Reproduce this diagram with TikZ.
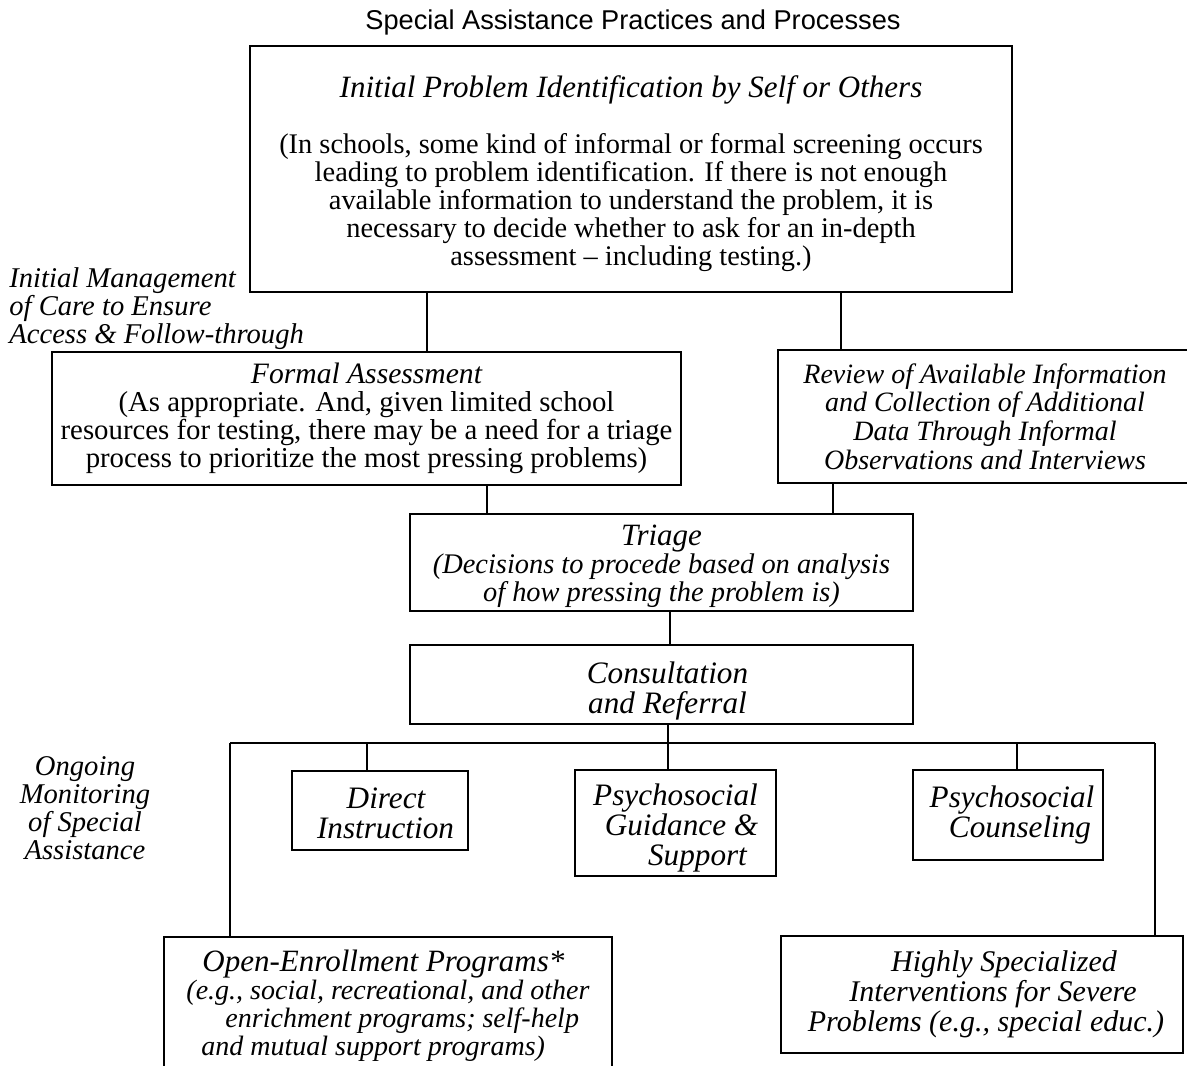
\documentclass[tikz,border=0pt]{standalone}
\usepackage{fontspec}
\setmainfont{Liberation Serif}
\newfontfamily\titlefont{Liberation Sans}
\newcommand{\hd}{\fontsize{15.5}{15}\selectfont}
\begin{document}
\begin{tikzpicture}[x=0.5pt,y=-0.5pt,
  txt/.style={font=\fontsize{14.2}{14}\selectfont},
  box/.style={draw, line width=1pt, align=flush center, inner sep=0pt, txt},
  sz/.style 2 args={minimum width=#1*0.5pt, minimum height=#2*0.5pt, text width=#1*0.5pt-2pt},
  conn/.style={line width=0.8pt},
  lbl/.style={font=\fontsize{14.3}{14}\selectfont\itshape, inner sep=0pt}]
\useasboundingbox (0,0) rectangle (1187,1065);

\node[font=\titlefont\fontsize{13.6}{14}\selectfont, inner sep=0pt] (title) at (633,22) {Special Assistance Practices and Processes};

\node[box, sz={762}{246}] (top) at (631,169)
  {\rule{0pt}{16pt}{\hd\itshape Initial Problem Identification by Self or Others}\\[14pt]
   (In schools, some kind of informal or formal screening occurs\\
   leading to problem identification. If there is not enough\\
   available information to understand the problem, it is\\
   necessary to decide whether to ask for an in-depth\\
   assessment – including testing.)};

\node[lbl, align=flush left, anchor=west] (initmgmt) at (9,309)
  {Initial Management\\ of Care to Ensure\\ Access \& Follow-through};

\node[box, sz={629}{133}, font=\fontsize{14.4}{14}\selectfont] (formal) at (366.5,418)
  {{\fontsize{14.8}{14}\selectfont\itshape Formal Assessment}\\
   (As appropriate. And, given limited school\\
   resources for testing, there may be a need for a triage\\
   process to prioritize the most pressing problems)};

\node[box, sz={414}{133}, font=\fontsize{14}{14.3}\selectfont\itshape] (review) at (985,416.5)
  {Review of Available Information\\ and Collection of Additional\\ Data Through Informal\\ Observations and Interviews};

\node[box, sz={503}{97}, font=\fontsize{14.2}{14}\selectfont\itshape] (triage) at (661.5,562)
  {\rule{0pt}{15pt}{\hd Triage}\\ (Decisions to procede based on analysis\\ of how pressing the problem is)};

\node[box, sz={503}{79}, font=\fontsize{15.6}{15}\selectfont\itshape] (consult) at (661.5,684)
  {\rule{0pt}{17.5pt}\hspace*{6pt}Consultation\\ \hspace*{6pt}and Referral};

\coordinate (busL) at (230,743);
\coordinate (busR) at (1155,743);

\node[lbl, align=flush center] (ongoing) at (85,808)
  {Ongoing\\ Monitoring\\ of Special\\ Assistance};

\node[box, sz={176}{79}, font=\fontsize{15.6}{15}\selectfont\itshape] (direct) at (380,810.5)
  {\rule{0pt}{13.5pt}\hspace*{6pt}Direct\\ \hspace*{5.5pt}Instruction};
\node[box, sz={201}{106}, font=\fontsize{15.6}{15}\selectfont\itshape] (guidance) at (675.5,823)
  {\rule{0pt}{15.5pt}Psychosocial\\ \hspace*{6pt}Guidance \&\\ \hspace*{22pt}Support};
\node[box, sz={190}{90}, font=\fontsize{15.6}{15}\selectfont\itshape] (counsel) at (1008,815)
  {\hspace*{4pt}Psychosocial\\ \hspace*{12pt}Counseling};

\node[box, minimum width=224pt, minimum height=69pt, align=flush left, font=\fontsize{14}{14}\selectfont\itshape] (open) at (388,1006)
  {\hspace*{8pt}{\hd Open-Enrollment Programs*}\\
   (e.g., social, recreational, and other\\
   \hspace*{19.5pt}enrichment programs; self-help\\
   \hspace*{7.5pt}and mutual support programs)};
\node[box, sz={402}{117}, font=\fontsize{15}{15}\selectfont\itshape] (highly) at (982,994.5)
  {\hspace*{22pt}Highly Specialized\\ \hspace*{11pt}Interventions for Severe\\ \hspace*{4pt}Problems (e.g., special educ.)};

\draw[conn] (427,0 |- top.south) -- (427,0 |- formal.north);
\draw[conn] (841,0 |- top.south) -- (841,0 |- review.north);
\draw[conn] (487,0 |- formal.south) -- (487,0 |- triage.north);
\draw[conn] (833,0 |- review.south) -- (833,0 |- triage.north);
\draw[conn] (670,0 |- triage.south) -- (670,0 |- consult.north);
\draw[conn] (668,0 |- consult.south) -- (668,0 |- guidance.north);
\draw[conn] (busL) -- (busR);
\draw[conn] (busL) -- (busL |- open.north);
\draw[conn] (busR) -- (busR |- highly.north);
\draw[conn] (367,0 |- busL) -- (367,0 |- direct.north);
\draw[conn] (1017,0 |- busL) -- (1017,0 |- counsel.north);
\end{tikzpicture}
\end{document}
